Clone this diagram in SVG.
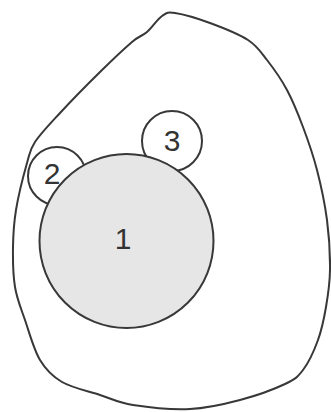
<svg xmlns="http://www.w3.org/2000/svg" width="331" height="412" viewBox="0 0 331 412">
<style>
.ln{fill:none;stroke:#383838;stroke-width:2;stroke-linejoin:round}
.c{stroke:#383838;stroke-width:2}
.lbl{font-family:"Liberation Sans",Arial,sans-serif;font-size:30px;fill:#333;text-anchor:middle}
</style>
<rect width="331" height="412" fill="#fff"/>
<g id="outer">
<path class="ln" d="M175,13 C183,14.2 197.8,18.5 210,23 C222.2,27.5 238.5,33.8 248,40 C257.5,46.2 260.5,51.7 267,60 C273.5,68.3 281,78.8 287,90 C293,101.2 298,113.7 303,127 C308,140.3 313,154.5 317,170 C321,185.5 324.8,203.3 327,220 C329.2,236.7 330.2,255.5 330,270 C329.8,284.5 328,295.3 326,307 C324,318.7 321.8,329.5 318,340 C314.2,350.5 308.5,362.7 303,370 C297.5,377.3 295.5,379 285,384 C274.5,389 255.8,395.8 240,400 C224.2,404.2 207.8,408.2 190,409 C172.2,409.8 148,407.3 133,405 C118,402.7 111.8,398.8 100,395 C88.2,391.2 72,387.8 62,382 C52,376.2 46.2,370.3 40,360 C33.8,349.7 29.2,332.2 25,320 C20.8,307.8 17,299.2 15,287 C13,274.8 12.8,259.8 13,247 C13.2,234.2 13.7,224 16,210 C18.3,196 23.8,174.3 27,163 C30.2,151.7 29.5,150.3 35,142 C40.5,133.7 49.2,124.7 60,113 C70.8,101.3 88,83.8 100,72 C112,60.2 124.2,48.7 132,42 C139.8,35.3 142,36.3 147,32 C152,27.7 157.3,19.2 162,16 C166.7,12.8 167,11.8 175,13 Z"/>
</g>
<g id="node2">
<circle class="c" cx="57" cy="176" r="29" fill="#fff"/>
<text class="lbl" x="52" y="184">2</text>
</g>
<g id="node3">
<circle class="c" cx="172" cy="141" r="30" fill="#fff"/>
<text class="lbl" x="172" y="151">3</text>
</g>
<g id="node1">
<circle class="c" cx="126.5" cy="241" r="87" fill="#e6e6e6"/>
<text class="lbl" x="123" y="249">1</text>
</g>
<g id="connectors"/>
</svg>
